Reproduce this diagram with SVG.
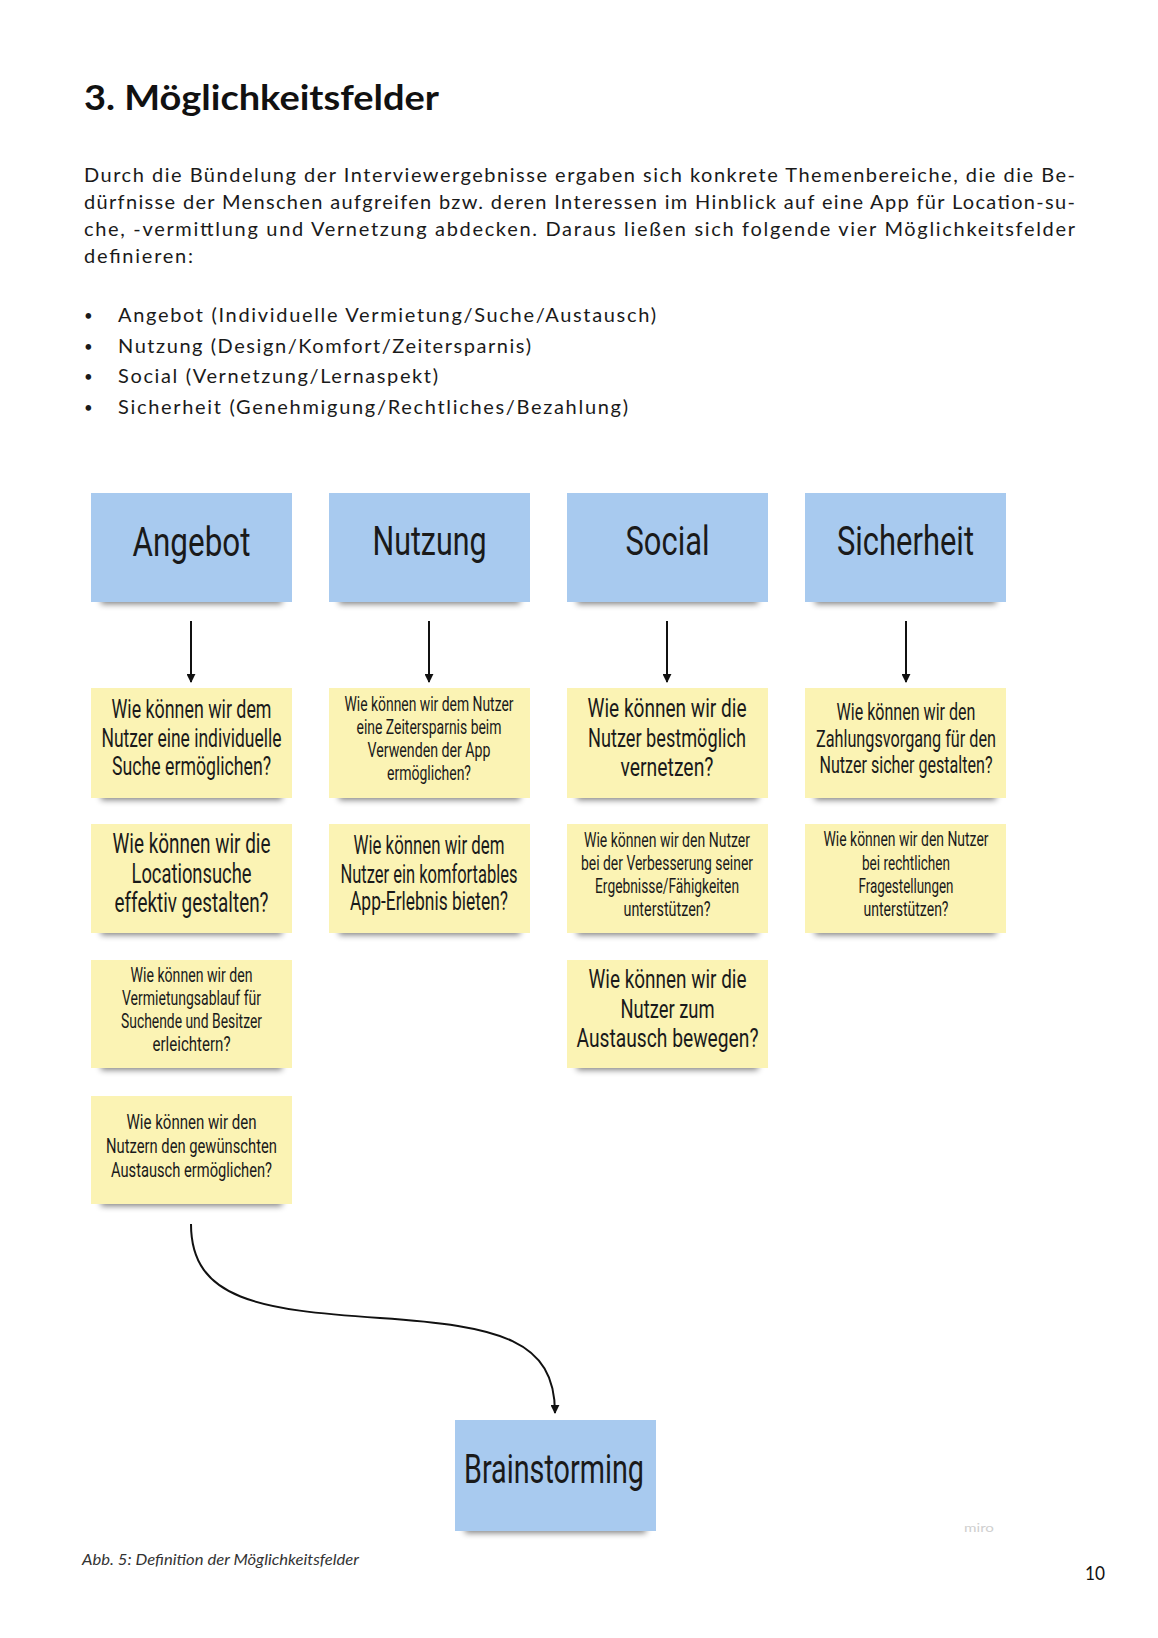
<svg xmlns="http://www.w3.org/2000/svg" width="1158" height="1638" viewBox="0 0 1158 1638">
<defs>
<style>
.title{font-family:Lato,"Open Sans",sans-serif;font-weight:bold;font-size:35px;fill:#111}
.body{font-family:Lato,"Open Sans",sans-serif;font-size:20px;fill:#1a1a1a}
.bul{font-family:Lato,"Open Sans",sans-serif;font-size:15px;fill:#1a1a1a}
.hw{font-family:"Liberation Sans Narrow",Roboto,sans-serif;fill:#1a1a1a;text-anchor:middle}
.hd{font-size:40px}
.blue{fill:#a8caef}
.yellow{fill:#fbf3b4}
.shadow{fill:#000;opacity:.5;filter:url(#blur)}
.conn{stroke:#111;stroke-width:2;fill:none;marker-end:url(#ah)}
</style>
<filter id="blur" x="-20%" y="-150%" width="140%" height="400%"><feGaussianBlur stdDeviation="3"/></filter>
<marker id="ah" viewBox="0 0 10 10" refX="9" refY="5" markerUnits="userSpaceOnUse" markerWidth="9" markerHeight="9" orient="auto"><path d="M0,0 L10,5 L0,10 z" fill="#111"/></marker>
</defs>
<rect width="1158" height="1638" fill="#fff"/>

<g id="text">
<text class="title" x="84" y="110" textLength="355" lengthAdjust="spacingAndGlyphs">3. Möglichkeitsfelder</text>
<text class="body" x="84" y="182" textLength="991" lengthAdjust="spacing">Durch die Bündelung der Interviewergebnisse ergaben sich konkrete Themenbereiche, die die Be-</text>
<text class="body" x="84" y="209" textLength="991" lengthAdjust="spacing">dürfnisse der Menschen aufgreifen bzw. deren Interessen im Hinblick auf eine App für Location-su-</text>
<text class="body" x="84" y="236" textLength="991" lengthAdjust="spacing">che, -vermittlung und Vernetzung abdecken. Daraus ließen sich folgende vier Möglichkeitsfelder</text>
<text class="body" x="84" y="263" textLength="109" lengthAdjust="spacing">definieren:</text>
<text class="bul" x="84" y="321">•</text>
<text class="body" x="118" y="322" textLength="538" lengthAdjust="spacing">Angebot (Individuelle Vermietung/Suche/Austausch)</text>
<text class="bul" x="84" y="351.5">•</text>
<text class="body" x="118" y="352.5" textLength="413" lengthAdjust="spacing">Nutzung (Design/Komfort/Zeitersparnis)</text>
<text class="bul" x="84" y="382">•</text>
<text class="body" x="118" y="383" textLength="320" lengthAdjust="spacing">Social (Vernetzung/Lernaspekt)</text>
<text class="bul" x="84" y="413">•</text>
<text class="body" x="118" y="414" textLength="510" lengthAdjust="spacing">Sicherheit (Genehmigung/Rechtliches/Bezahlung)</text>
</g>

<g id="connectors">
<line class="conn" x1="191" y1="621" x2="191" y2="682"/>
<line class="conn" x1="429" y1="621" x2="429" y2="682"/>
<line class="conn" x1="667" y1="621" x2="667" y2="682"/>
<line class="conn" x1="906" y1="621" x2="906" y2="682"/>
<path class="conn" d="M191,1224 C191,1300 260,1310 380,1318 C500,1326 555,1340 555,1413"/>
</g>

<g id="h-angebot">
<rect class="shadow" x="101" y="592" width="181" height="12"/>
<rect class="blue" x="91" y="493" width="201" height="109"/>
<text class="hw hd" x="191.5" y="556" textLength="118" lengthAdjust="spacingAndGlyphs">Angebot</text>
</g>
<g id="h-nutzung">
<rect class="shadow" x="339" y="592" width="181" height="12"/>
<rect class="blue" x="329" y="493" width="201" height="109"/>
<text class="hw hd" x="429.5" y="555" textLength="114" lengthAdjust="spacingAndGlyphs">Nutzung</text>
</g>
<g id="h-social">
<rect class="shadow" x="577" y="592" width="181" height="12"/>
<rect class="blue" x="567" y="493" width="201" height="109"/>
<text class="hw hd" x="667.5" y="555" textLength="84" lengthAdjust="spacingAndGlyphs">Social</text>
</g>
<g id="h-sicherheit">
<rect class="shadow" x="815" y="592" width="181" height="12"/>
<rect class="blue" x="805" y="493" width="201" height="109"/>
<text class="hw hd" x="905.5" y="555" textLength="137" lengthAdjust="spacingAndGlyphs">Sicherheit</text>
</g>

<g id="a1">
<rect class="shadow" x="101" y="788" width="181" height="12"/>
<rect class="yellow" x="91" y="688" width="201" height="110"/>
<g class="hw" font-size="25">
<text x="191.5" y="718" textLength="160" lengthAdjust="spacingAndGlyphs">Wie können wir dem</text>
<text x="191.5" y="747" textLength="180" lengthAdjust="spacingAndGlyphs">Nutzer eine individuelle</text>
<text x="191.5" y="775" textLength="159" lengthAdjust="spacingAndGlyphs">Suche ermöglichen?</text>
</g>
</g>
<g id="n1">
<rect class="shadow" x="339" y="788" width="181" height="12"/>
<rect class="yellow" x="329" y="688" width="201" height="110"/>
<g class="hw" font-size="20">
<text x="429" y="711" textLength="169" lengthAdjust="spacingAndGlyphs">Wie können wir dem Nutzer</text>
<text x="429" y="734" textLength="145" lengthAdjust="spacingAndGlyphs">eine Zeitersparnis beim</text>
<text x="429" y="757" textLength="123" lengthAdjust="spacingAndGlyphs">Verwenden der App</text>
<text x="429" y="780" textLength="84" lengthAdjust="spacingAndGlyphs">ermöglichen?</text>
</g>
</g>
<g id="s1">
<rect class="shadow" x="577" y="788" width="181" height="12"/>
<rect class="yellow" x="567" y="688" width="201" height="110"/>
<g class="hw" font-size="26">
<text x="667" y="717" textLength="159" lengthAdjust="spacingAndGlyphs">Wie können wir die</text>
<text x="667" y="747" textLength="158" lengthAdjust="spacingAndGlyphs">Nutzer bestmöglich</text>
<text x="667" y="776" textLength="93" lengthAdjust="spacingAndGlyphs">vernetzen?</text>
</g>
</g>
<g id="z1">
<rect class="shadow" x="815" y="788" width="181" height="12"/>
<rect class="yellow" x="805" y="688" width="201" height="110"/>
<g class="hw" font-size="23">
<text x="906" y="720" textLength="139" lengthAdjust="spacingAndGlyphs">Wie können wir den</text>
<text x="906" y="747" textLength="180" lengthAdjust="spacingAndGlyphs">Zahlungsvorgang für den</text>
<text x="906" y="773" textLength="173" lengthAdjust="spacingAndGlyphs">Nutzer sicher gestalten?</text>
</g>
</g>

<g id="a2">
<rect class="shadow" x="101" y="923" width="181" height="12"/>
<rect class="yellow" x="91" y="824" width="201" height="109"/>
<g class="hw" font-size="27">
<text x="191.5" y="853" textLength="158" lengthAdjust="spacingAndGlyphs">Wie können wir die</text>
<text x="191.5" y="883" textLength="120" lengthAdjust="spacingAndGlyphs">Locationsuche</text>
<text x="191.5" y="912" textLength="154" lengthAdjust="spacingAndGlyphs">effektiv gestalten?</text>
</g>
</g>
<g id="n2">
<rect class="shadow" x="339" y="923" width="181" height="12"/>
<rect class="yellow" x="329" y="824" width="201" height="109"/>
<g class="hw" font-size="25">
<text x="429" y="854" textLength="151" lengthAdjust="spacingAndGlyphs">Wie können wir dem</text>
<text x="429" y="883" textLength="177" lengthAdjust="spacingAndGlyphs">Nutzer ein komfortables</text>
<text x="429" y="910" textLength="158" lengthAdjust="spacingAndGlyphs">App-Erlebnis bieten?</text>
</g>
</g>
<g id="s2">
<rect class="shadow" x="577" y="923" width="181" height="12"/>
<rect class="yellow" x="567" y="824" width="201" height="109"/>
<g class="hw" font-size="20">
<text x="667" y="847" textLength="166" lengthAdjust="spacingAndGlyphs">Wie können wir den Nutzer</text>
<text x="667" y="870" textLength="172" lengthAdjust="spacingAndGlyphs">bei der Verbesserung seiner</text>
<text x="667" y="893" textLength="144" lengthAdjust="spacingAndGlyphs">Ergebnisse/Fähigkeiten</text>
<text x="667" y="916" textLength="87" lengthAdjust="spacingAndGlyphs">unterstützen?</text>
</g>
</g>
<g id="z2">
<rect class="shadow" x="815" y="923" width="181" height="12"/>
<rect class="yellow" x="805" y="824" width="201" height="109"/>
<g class="hw" font-size="20">
<text x="906" y="846" textLength="165" lengthAdjust="spacingAndGlyphs">Wie können wir den Nutzer</text>
<text x="906" y="870" textLength="88" lengthAdjust="spacingAndGlyphs">bei rechtlichen</text>
<text x="906" y="893" textLength="95" lengthAdjust="spacingAndGlyphs">Fragestellungen</text>
<text x="906" y="916" textLength="85" lengthAdjust="spacingAndGlyphs">unterstützen?</text>
</g>
</g>

<g id="a3">
<rect class="shadow" x="101" y="1058" width="181" height="12"/>
<rect class="yellow" x="91" y="960" width="201" height="108"/>
<g class="hw" font-size="20">
<text x="191.5" y="982" textLength="122" lengthAdjust="spacingAndGlyphs">Wie können wir den</text>
<text x="191.5" y="1005" textLength="139" lengthAdjust="spacingAndGlyphs">Vermietungsablauf für</text>
<text x="191.5" y="1028" textLength="141" lengthAdjust="spacingAndGlyphs">Suchende und Besitzer</text>
<text x="191.5" y="1051" textLength="78" lengthAdjust="spacingAndGlyphs">erleichtern?</text>
</g>
</g>
<g id="s3">
<rect class="shadow" x="577" y="1058" width="181" height="12"/>
<rect class="yellow" x="567" y="960" width="201" height="108"/>
<g class="hw" font-size="26">
<text x="667.5" y="988" textLength="158" lengthAdjust="spacingAndGlyphs">Wie können wir die</text>
<text x="667.5" y="1018" textLength="94" lengthAdjust="spacingAndGlyphs">Nutzer zum</text>
<text x="667.5" y="1047" textLength="182" lengthAdjust="spacingAndGlyphs">Austausch bewegen?</text>
</g>
</g>

<g id="a4">
<rect class="shadow" x="101" y="1194" width="181" height="12"/>
<rect class="yellow" x="91" y="1096" width="201" height="108"/>
<g class="hw" font-size="21">
<text x="191.5" y="1129" textLength="130" lengthAdjust="spacingAndGlyphs">Wie können wir den</text>
<text x="191.5" y="1153" textLength="171" lengthAdjust="spacingAndGlyphs">Nutzern den gewünschten</text>
<text x="191.5" y="1177" textLength="161" lengthAdjust="spacingAndGlyphs">Austausch ermöglichen?</text>
</g>
</g>

<g id="brainstorming">
<rect class="shadow" x="465" y="1521" width="181" height="12"/>
<rect class="blue" x="455" y="1420" width="201" height="111"/>
<text class="hw hd" x="554" y="1483" textLength="180" lengthAdjust="spacingAndGlyphs">Brainstorming</text>
</g>

<g id="footer">
<text x="964" y="1532" font-family="Lato,sans-serif" font-size="12" fill="#cfcfcf" textLength="30" lengthAdjust="spacingAndGlyphs">miro</text>
<text x="82" y="1565" font-family="Lato,sans-serif" font-style="italic" font-size="15" fill="#333" textLength="277" lengthAdjust="spacingAndGlyphs">Abb. 5: Definition der Möglichkeitsfelder</text>
<text x="1085" y="1580" font-family="Lato,sans-serif" font-size="19" fill="#111" textLength="20" lengthAdjust="spacingAndGlyphs">10</text>
</g>
</svg>
